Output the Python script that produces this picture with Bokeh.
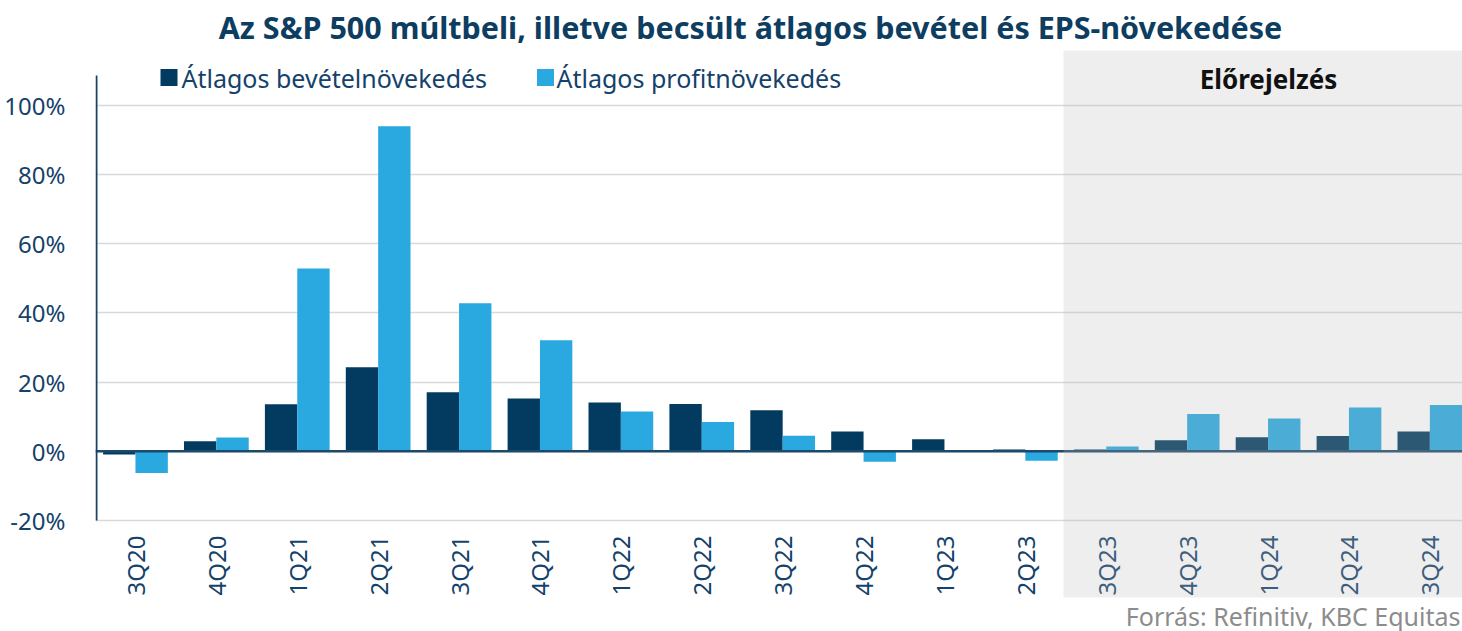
from math import pi
from bokeh.plotting import figure
from bokeh.models import ColumnDataSource, Range1d, FixedTicker, BoxAnnotation
from bokeh.core.properties import value
from bokeh.embed import file_html
from bokeh.resources import INLINE

# ---------------- data ----------------
quarters = ["3Q20", "4Q20", "1Q21", "2Q21", "3Q21", "4Q21", "1Q22", "2Q22", "3Q22",
            "4Q22", "1Q23", "2Q23", "3Q23", "4Q23", "1Q24", "2Q24", "3Q24"]
revenue_growth = [-0.9, 2.9, 13.6, 24.3, 17.1, 15.3, 14.1, 13.7, 11.9,
                  5.7, 3.5, 0.5, 0.5, 3.2, 4.1, 4.4, 5.7]
profit_growth = [-6.3, 4.0, 52.9, 94.0, 42.8, 32.1, 11.5, 8.5, 4.5,
                 -3.0, -0.1, -2.7, 1.4, 10.8, 9.5, 12.7, 13.4]
forecast_from = "3Q23"
y_ticks = [-20, 0, 20, 40, 60, 80, 100]
series_names = ["Átlagos bevételnövekedés", "Átlagos profitnövekedés"]
title_text = "Az S&P 500 múltbeli, illetve becsült átlagos bevétel és EPS-növekedése"
forecast_label = "Előrejelzés"
source_text = "Forrás: Refinitiv, KBC Equitas"

# ---------------- layout ----------------
W, H = 1462, 631
LEFT = 95                      # frame left offset inside figure
FRAME_W = W - LEFT
X0 = -0.494
PX_PER_X = 80.9
X1 = X0 + FRAME_W / PX_PER_X
PX_PER_Y = 3.4583
Y1 = 100 + 105 / PX_PER_Y      # value at top of frame
Y0 = Y1 - H / PX_PER_Y

def px_x(page_x):
    return X0 + (page_x - LEFT) / PX_PER_X

def px_y(page_y):
    return Y1 - page_y / PX_PER_Y

DARK = "#023b5f"
LIGHT = "#29a9e0"
AXIS = "#14426a"
FONT = "Noto Sans"

idx = list(range(len(quarters)))
bw = 0.4
src = ColumnDataSource(dict(
    xd=[i - bw / 2 for i in idx],
    xl=[i + bw / 2 for i in idx],
    rev=revenue_growth,
    prof=profit_growth,
))

p = figure(width=W, height=H, output_backend="svg", toolbar_location=None,
           x_range=Range1d(X0, X1), y_range=Range1d(Y0, Y1),
           x_axis_location=None, min_border_left=LEFT, min_border_right=0,
           min_border_top=0, min_border_bottom=0)
p.outline_line_color = None
p.xgrid.visible = False
p.ygrid.ticker = FixedTicker(ticks=y_ticks)
p.ygrid.grid_line_color = "#d9d9d9"
p.ygrid.grid_line_width = 1.5

yax = p.yaxis[0]
yax.ticker = FixedTicker(ticks=y_ticks)
yax.major_label_overrides = {t: f"{t}%" for t in y_ticks}
yax.axis_line_color = None
yax.major_tick_line_color = None
yax.minor_tick_line_color = None
yax.major_label_standoff = 24
yax.major_label_text_font = FONT
yax.major_label_text_font_size = "24px"
yax.major_label_text_color = AXIS

# bars
p.vbar(x="xd", top="rev", bottom=0, width=bw, source=src, fill_color=DARK,
       line_color=None)
p.vbar(x="xl", top="prof", bottom=0, width=bw, source=src, fill_color=LIGHT,
       line_color=None)

# zero line and left axis line
p.segment(x0=[X0], y0=[0], x1=[X1], y1=[0], line_color="#1d4a6a", line_width=2.5)
p.segment(x0=[X0 + 0.012], y0=[y_ticks[0]], x1=[X0 + 0.012], y1=[px_y(75)],
          line_color=AXIS, line_width=2)

# category labels (rotated)
lab = ColumnDataSource(dict(x=idx, y=[px_y(595)] * len(idx), t=quarters))
p.text(x="x", y="y", text="t", source=lab, angle=pi / 2, text_align="left",
       text_baseline="middle", text_font=value(FONT), text_font_size="24px",
       text_color=AXIS)

# forecast shading
box = BoxAnnotation(left=px_x(1063), right=X1, top=px_y(50), bottom=px_y(597),
                    fill_color="#b8b8b8", fill_alpha=0.238, line_color=None,
                    level="annotation")
p.add_layout(box)
t_fc = p.text(x=[px_x(1268)], y=[px_y(78)], text=[forecast_label],
              text_align="center", text_baseline="middle",
              text_font=value(FONT), text_font_size="26px",
              text_font_style="bold", text_color="#111111")
t_fc.level = "overlay"

# title
p.text(x=[px_x(750)], y=[px_y(26)], text=[title_text], text_align="center",
       text_baseline="middle", text_font=value(FONT), text_font_size="30.5px",
       text_font_style="bold", text_color="#0d3d60")

# legend
p.scatter(x=[px_x(168.5)], y=[px_y(77)], marker="square", size=17,
          fill_color=DARK, line_color=None)
p.scatter(x=[px_x(545)], y=[px_y(77)], marker="square", size=17,
          fill_color=LIGHT, line_color=None)
p.text(x=[px_x(181)], y=[px_y(77)], text=[series_names[0]], text_align="left",
       text_baseline="middle", text_font=value(FONT), text_font_size="25px",
       text_color=AXIS)
p.text(x=[px_x(556)], y=[px_y(77)], text=[series_names[1]], text_align="left",
       text_baseline="middle", text_font=value(FONT), text_font_size="25px",
       text_color=AXIS)

# source
p.text(x=[px_x(1460)], y=[px_y(615)], text=[source_text], text_align="right",
       text_baseline="middle", text_font=value(FONT), text_font_size="25px",
       text_color="#8c8c8c")

open("out.html", "w").write(file_html(p, INLINE))
